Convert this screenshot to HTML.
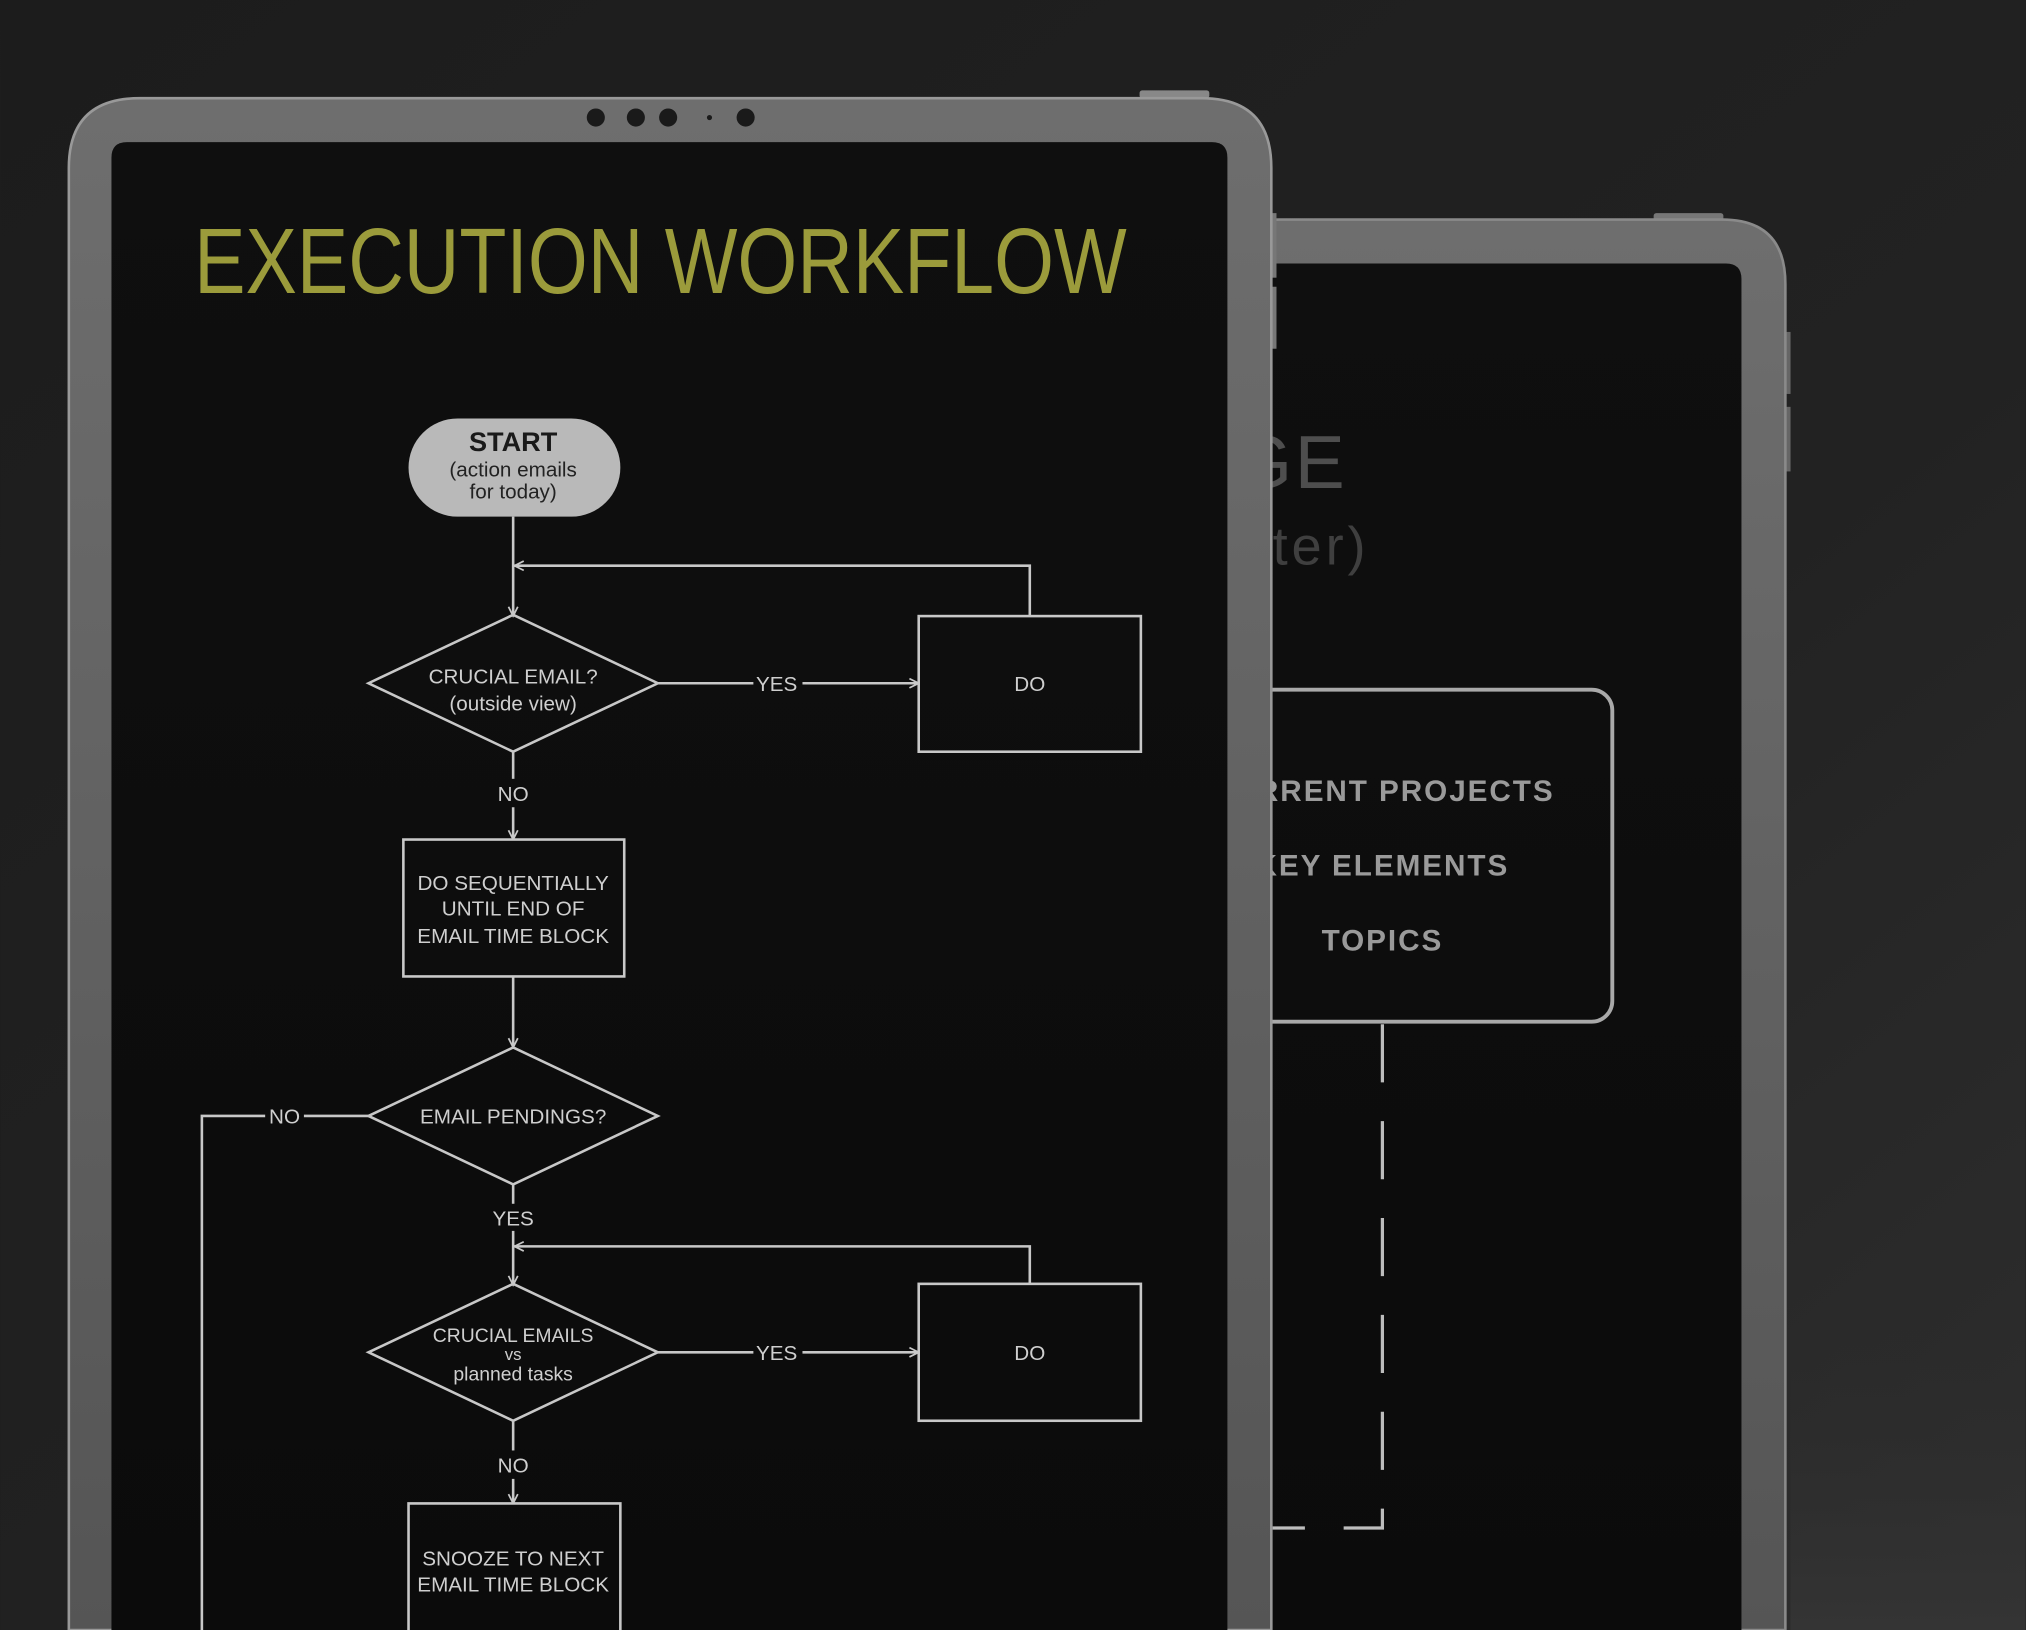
<!DOCTYPE html>
<html><head><meta charset="utf-8"><style>
html,body{margin:0;padding:0;background:#1d1d1d;}
svg{display:block}
</style></head><body>
<svg width="2026" height="1630" viewBox="0 0 1568 1262" xmlns="http://www.w3.org/2000/svg" font-family="Liberation Sans, sans-serif">
<defs>
<linearGradient id="bg" x1="0" y1="0" x2="1" y2="1">
<stop offset="0" stop-color="#1c1c1c"/><stop offset="0.6" stop-color="#222"/><stop offset="1" stop-color="#2e2e2e"/>
</linearGradient>
<linearGradient id="bez" x1="0" y1="0" x2="0" y2="1">
<stop offset="0" stop-color="#6e6e6e"/><stop offset="1" stop-color="#555"/>
</linearGradient>
<linearGradient id="scr" x1="0" y1="0" x2="0" y2="1">
<stop offset="0" stop-color="#0f0f0f"/><stop offset="1" stop-color="#0b0b0b"/>
</linearGradient>
<linearGradient id="br" x1="0" y1="0" x2="0" y2="1">
<stop offset="0" stop-color="#2a2a2a" stop-opacity="0"/><stop offset="1" stop-color="#343434"/>
</linearGradient>
<marker id="ar" viewBox="0 0 10 10" refX="9" refY="5" markerWidth="9" markerHeight="9" orient="auto" markerUnits="userSpaceOnUse">
<path d="M1,1 L9,5 L1,9" fill="none" stroke="#c8c8c8" stroke-width="1.5"/>
</marker>
</defs>
<rect width="1568" height="1262" fill="url(#bg)"/>
<rect x="1386" y="1000" width="182" height="262" fill="url(#br)"/>

<!-- back tablet -->
<rect x="1280" y="165" width="54" height="6" rx="2" fill="#777"/>
<rect x="1381" y="257" width="5" height="48" fill="#666"/>
<rect x="1381" y="315" width="5" height="50" fill="#666"/>
<path d="M940,1262 V218 Q940,170 990,170 H1333 Q1382,170 1382,220 V1262 Z" fill="url(#bez)" stroke="#8a8a8a" stroke-width="2"/>
<path d="M960,1262 V215 Q960,204 972,204 H1336 Q1348,204 1348,216 V1262 Z" fill="url(#scr)"/>
<text x="955" y="378" font-size="58" fill="#4e4e4e" letter-spacing="2">GE</text>
<text x="985" y="437" font-size="42" fill="#3f3f3f" letter-spacing="3">ter)</text>
<rect x="940" y="534" width="308" height="257" rx="16" fill="none" stroke="#a9a9a9" stroke-width="3"/>
<g font-weight="bold" fill="#9a9a9a" font-size="23" text-anchor="middle" letter-spacing="1.5">
<text x="1070" y="620">CURRENT PROJECTS</text>
<text x="1070" y="678">KEY ELEMENTS</text>
<text x="1070" y="736">TOPICS</text>
</g>
<path d="M1070,793 V1183 H985" fill="none" stroke="#bdbdbd" stroke-width="2.5" stroke-dasharray="45,30"/>

<!-- front tablet -->
<rect x="882" y="70" width="54" height="6" rx="2" fill="#888"/>
<rect x="983" y="165" width="5" height="50" fill="#777"/>
<rect x="983" y="222" width="5" height="48" fill="#777"/>
<path d="M53,1262 V130 Q53,76 108,76 H930 Q984,76 984,130 V1262 Z" fill="url(#bez)" stroke="#999" stroke-width="2"/>
<path d="M86,1262 V122 Q86,110 98,110 H938 Q950,110 950,122 V1262 Z" fill="url(#scr)"/>
<g fill="#1a1a1a"><circle cx="461" cy="91" r="7"/><circle cx="492" cy="91" r="7"/><circle cx="517" cy="91" r="7"/><circle cx="549" cy="91" r="2"/><circle cx="577" cy="91" r="7"/></g>

<text x="150" y="227" font-size="72" fill="#9b9b3b" textLength="722" lengthAdjust="spacingAndGlyphs">EXECUTION WORKFLOW</text>

<g stroke="#c8c8c8" stroke-width="2" fill="none">
<rect x="316" y="324" width="164" height="76" rx="38" fill="#b9b9b9" stroke="none"/>
<line x1="397" y1="400" x2="397" y2="477" marker-end="url(#ar)"/>
<polyline points="797,477 797,438 398,438" marker-end="url(#ar)"/>
<polygon points="285,529 397,476 509,529 397,582"/>
<line x1="509" y1="529" x2="583" y2="529"/>
<line x1="621" y1="529" x2="711" y2="529" marker-end="url(#ar)"/>
<rect x="711" y="477" width="172" height="105"/>
<line x1="397" y1="582" x2="397" y2="603"/>
<line x1="397" y1="625" x2="397" y2="650" marker-end="url(#ar)"/>
<rect x="312" y="650" width="171" height="106"/>
<line x1="397" y1="756" x2="397" y2="811" marker-end="url(#ar)"/>
<polygon points="285,864 397,811 509,864 397,917"/>
<line x1="285" y1="864" x2="235" y2="864"/>
<polyline points="205,864 156,864 156,1262"/>
<line x1="397" y1="917" x2="397" y2="932"/>
<line x1="397" y1="953" x2="397" y2="995" marker-end="url(#ar)"/>
<polyline points="797,994 797,965 398,965" marker-end="url(#ar)"/>
<polygon points="285,1047 397,994 509,1047 397,1100"/>
<line x1="509" y1="1047" x2="583" y2="1047"/>
<line x1="621" y1="1047" x2="711" y2="1047" marker-end="url(#ar)"/>
<rect x="711" y="994" width="172" height="106"/>
<line x1="397" y1="1100" x2="397" y2="1123"/>
<line x1="397" y1="1145" x2="397" y2="1164" marker-end="url(#ar)"/>
<polyline points="316,1262 316,1164 480,1164 480,1262"/>
</g>

<g text-anchor="middle" fill="#cfcfcf" font-size="16">
<text x="397" y="349" font-size="21" font-weight="bold" fill="#1a1a1a">START</text>
<text x="397" y="369" font-size="16" fill="#222">(action emails</text>
<text x="397" y="386" font-size="16" fill="#222">for today)</text>
<text x="397" y="529">CRUCIAL EMAIL?</text>
<text x="397" y="550">(outside view)</text>
<text x="601" y="535">YES</text>
<text x="797" y="535">DO</text>
<text x="397" y="620">NO</text>
<text x="397" y="689">DO SEQUENTIALLY</text>
<text x="397" y="709">UNTIL END OF</text>
<text x="397" y="730">EMAIL TIME BLOCK</text>
<text x="397" y="870">EMAIL PENDINGS?</text>
<text x="220" y="870">NO</text>
<text x="397" y="949">YES</text>
<text x="397" y="1039" font-size="15">CRUCIAL EMAILS</text>
<text x="397" y="1053" font-size="13">vs</text>
<text x="397" y="1069" font-size="15">planned tasks</text>
<text x="601" y="1053">YES</text>
<text x="797" y="1053">DO</text>
<text x="397" y="1140">NO</text>
<text x="397" y="1212">SNOOZE TO NEXT</text>
<text x="397" y="1232">EMAIL TIME BLOCK</text>
</g>
</svg>
</body></html>
